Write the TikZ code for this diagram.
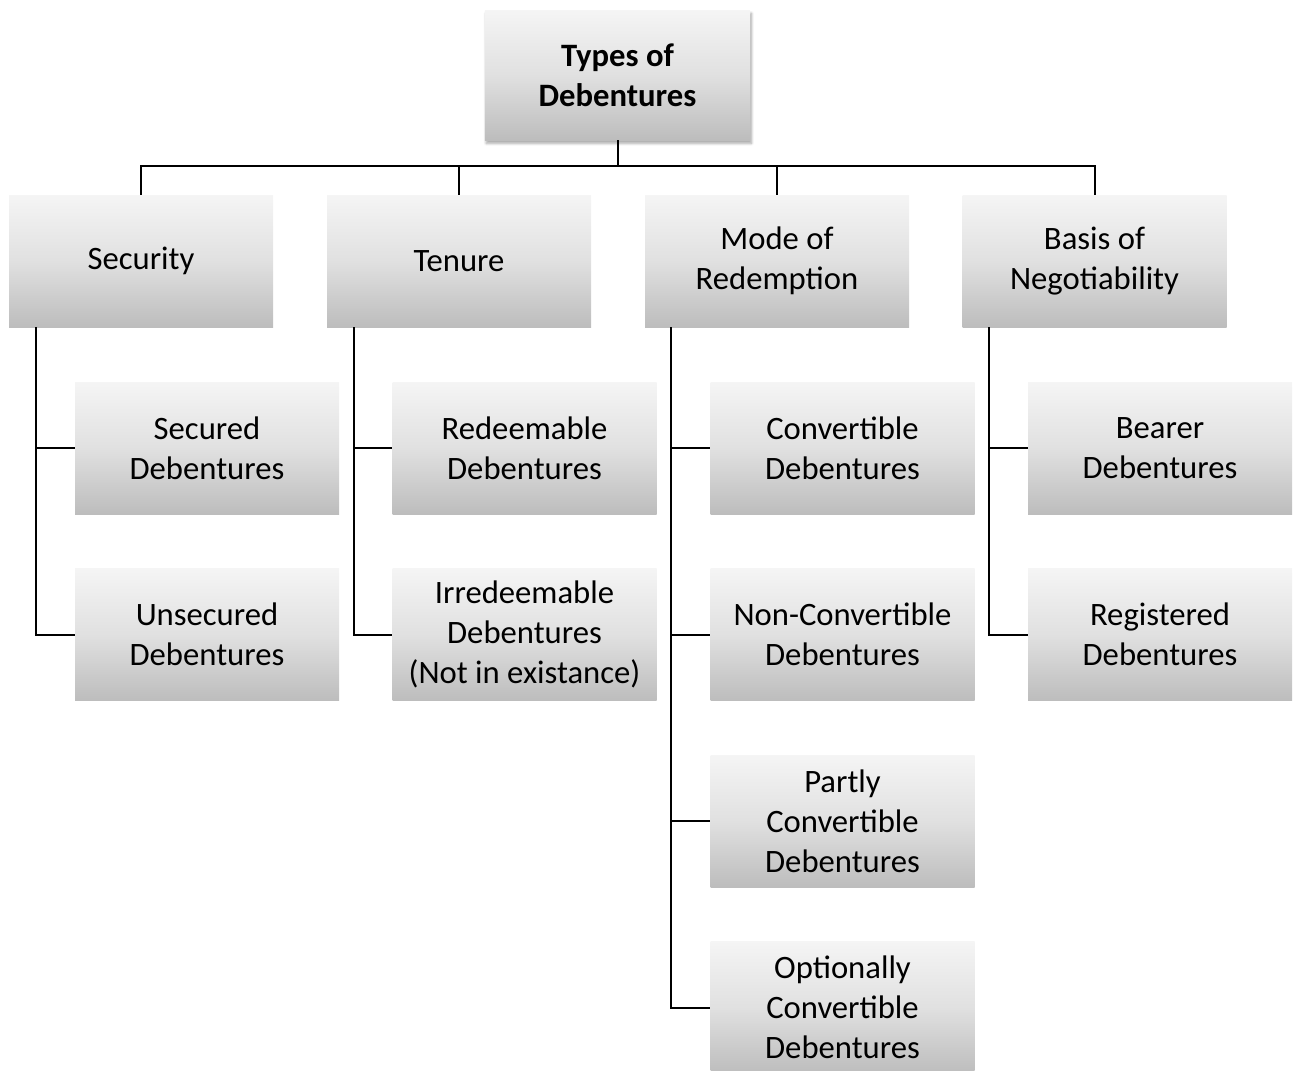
\documentclass[tikz,border=0pt]{standalone}
\usepackage{fontspec}
\setmainfont{Carlito}
\usetikzlibrary{shadows.blur}
\begin{document}
\begin{tikzpicture}[x=0.75pt,y=-0.75pt,
  gbox/.style={rectangle, inner sep=0pt, minimum width=198pt, minimum height=99pt,
    top color=black!4, bottom color=black!26, middle color=black!12, draw=none,
    align=center, font=\fontsize{24.5}{30}\selectfont},
  topbox/.style={gbox, minimum width=199pt, minimum height=97.5pt,
    font=\fontsize{24.5}{30}\selectfont\bfseries,
    blur shadow={shadow xshift=1pt, shadow yshift=-2.5pt, shadow blur steps=8, shadow opacity=35}},
  conn/.style={draw=black, line width=1.5pt}]
\useasboundingbox (0,0) rectangle (1293,1071);
% root
\node[topbox] (top) at (617.5,75) {Types of\\Debentures};
% level 1
\node[gbox] (sec) at (141,261) {Security};
\node[gbox] (ten) at (459,261) {Tenure};
\node[gbox] (mode) at (777,261) {Mode of\\Redemption};
\node[gbox] (basis) at (1094.5,261) {Basis of\\Negotiability};
% level 2
\node[gbox] (secured) at (207,448) {Secured\\Debentures};
\node[gbox] (unsecured) at (207,634.5) {Unsecured\\Debentures};
\node[gbox] (redeem) at (524.5,448) {Redeemable\\Debentures};
\node[gbox] (irredeem) at (524.5,634.5) {Irredeemable\\Debentures\\(Not in existance)};
\node[gbox] (conv) at (842.5,448) {Convertible\\Debentures};
\node[gbox] (nonconv) at (842.5,634.5) {Non-Convertible\\Debentures};
\node[gbox] (partly) at (842.5,821) {Partly\\Convertible\\Debentures};
\node[gbox] (option) at (842.5,1007.5) {Optionally\\Convertible\\Debentures};
\node[gbox] (bearer) at (1160,448) {Bearer\\Debentures};
\node[gbox] (regist) at (1160,634.5) {Registered\\Debentures};
% connectors level 0-1
\coordinate (bus) at (617.5,166);
\draw[conn] (top.south) -- (bus);
\draw[conn] (sec.north) -- (sec.north |- bus) -- (basis.north |- bus) -- (basis.north);
\draw[conn] (ten.north) -- (ten.north |- bus);
\draw[conn] (mode.north) -- (mode.north |- bus);
% connectors level 1-2
\draw[conn] ([xshift=20.25pt]sec.south west) |- (unsecured.west);
\draw[conn] ([xshift=20.25pt]sec.south west) |- (secured.west);
\draw[conn] ([xshift=20.25pt]ten.south west) |- (irredeem.west);
\draw[conn] ([xshift=20.25pt]ten.south west) |- (redeem.west);
\draw[conn] ([xshift=19.5pt]mode.south west) |- (option.west);
\draw[conn] ([xshift=19.5pt]mode.south west) |- (partly.west);
\draw[conn] ([xshift=19.5pt]mode.south west) |- (nonconv.west);
\draw[conn] ([xshift=19.5pt]mode.south west) |- (conv.west);
\draw[conn] ([xshift=20.25pt]basis.south west) |- (regist.west);
\draw[conn] ([xshift=20.25pt]basis.south west) |- (bearer.west);
\end{tikzpicture}
\end{document}
